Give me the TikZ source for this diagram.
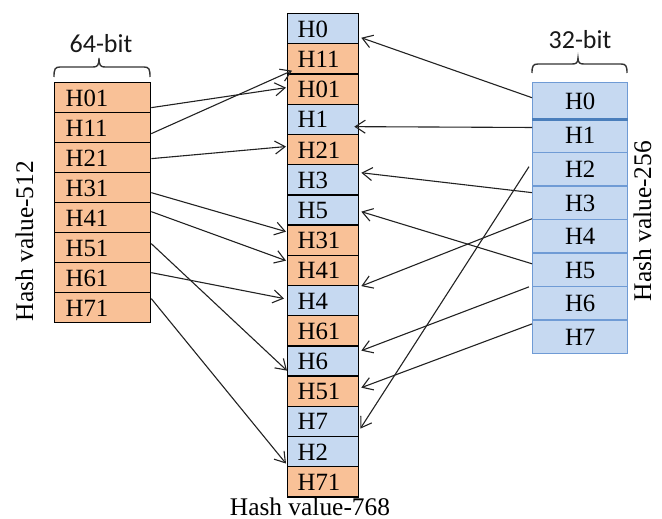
\documentclass[tikz,border=0pt]{standalone}
\usepackage{fontspec}
\setmainfont{Liberation Serif}
\newfontfamily\bitfont{Carlito}
\usetikzlibrary{arrows.meta}
\definecolor{cello}{HTML}{F9C197}
\definecolor{cellb}{HTML}{C6D9F1}
\definecolor{rightedge}{HTML}{6F9BD5}
\definecolor{rightbar}{HTML}{4A7EBB}
\definecolor{linkgray}{HTML}{222222}
\definecolor{bracegray}{HTML}{333333}

% bracket-like brace: #1 left x, #2 right x, #3 tip x, #4 end y, #5 bar y, #6 tip y
\newcommand\bitbrace[6]{%
  \draw[bracestyle] (#1,#4) .. controls (#1,{#5+2}) and ({#1+1},#5) .. ({#1+6},#5)
    -- ({#3-6},#5) .. controls ({#3-2},#5) and (#3,{#5-1}) .. (#3,#6)
    .. controls (#3,{#5-1}) and ({#3+2},#5) .. ({#3+6},#5)
    -- ({#2-6},#5) .. controls ({#2-1},#5) and (#2,{#5+2}) .. (#2,#4);}

\begin{document}
\begin{tikzpicture}[x=1pt,y=-1pt,
  cellbase/.style={draw=black, line width=1.3pt, inner ysep=0pt, anchor=north west,
    text height=17pt, text depth=0pt, font=\fontsize{24.8}{28}\selectfont, align=left},
  lcell/.style={cellbase, fill=cello, minimum width=96pt, minimum height=30pt,
    inner xsep=11pt, text width=74pt},
  mcell/.style={cellbase, minimum width=71pt, minimum height=30.2pt,
    inner xsep=10pt, text width=51pt},
  rcell/.style={draw=rightedge, line width=1.4pt, fill=cellb, anchor=north west,
    minimum width=95pt, inner sep=0pt, text width=95pt, align=center,
    text height=17pt, text depth=0pt, font=\fontsize{24.8}{28}\selectfont},
  link/.style={draw=linkgray, line width=1.1pt, -{Straight Barb[length=10pt,width=13pt]}},
  bracestyle/.style={draw=bracegray, line width=1.4pt},
  bitlabel/.style={font=\bitfont\fontsize{26}{30}\selectfont, text=black!90, anchor=base},
  hashlabel/.style={font=\fontsize{25.4}{30}\selectfont, anchor=base},
]
\useasboundingbox (0,0) rectangle (662,519);

% 512-bit hash split into 64-bit words
\foreach \t [count=\i] in {H01,H11,H21,H31,H41,H51,H61,H71}
  \node[lcell] (L\i) at (54,{82+30*(\i-1)}) {\t};

% interleaved 768-bit hash
\foreach \t/\c [count=\i] in {H0/cellb,H11/cello,H01/cello,H1/cellb,H21/cello,H3/cellb,
    H5/cellb,H31/cello,H41/cello,H4/cellb,H61/cello,H6/cellb,H51/cello,H7/cellb,
    H2/cellb,H71/cello}
  \node[mcell, fill=\c] (M\i) at (287,{13+30.2*(\i-1)}) {\t};

% 256-bit hash split into 32-bit words
\node[rcell, minimum height=36pt] (R0) at (532,82) {H0};
\foreach \t [count=\i] in {H1,H2,H3,H4,H5,H6,H7}
  \node[rcell, minimum height=33.57pt] (R\i) at (532,{118+33.57*(\i-1)}) {\t};
\draw[rightbar, line width=2.6pt] (R0.south west) -- (R0.south east);

% braces and word sizes
\bitbrace{54}{150}{99}{77}{67}{58}
\node[bitlabel] (w64) at (101,53) {64-bit};
\bitbrace{532}{627}{578}{73}{64}{58}
\node[bitlabel] (w32) at (580,49) {32-bit};

% column captions
\node[hashlabel, rotate=90] (c512) at (33,241) {Hash value-512};
\node[hashlabel, rotate=90] (c256) at (651,221) {Hash value-256};
\node[hashlabel] (c768) at (310,515) {Hash value-768};

% 64-bit words into the merged hash
\draw[link] ([yshift=-10pt]L1.east) -- ([xshift=-1pt,yshift=1.5pt]M3.west);
\draw[link] ([yshift=-6pt]L2.east) -- ([xshift=5pt,yshift=-11.7pt]M2.west);
\draw[link] ([yshift=-1pt]L3.east) -- ([xshift=-1pt,yshift=3pt]M5.west);
\draw[link] ([yshift=-5pt]L4.east) -- ([xshift=-1pt,yshift=8.5pt]M8.west);
\draw[link] ([yshift=6pt]L5.east) -- ([xshift=-1pt,yshift=9.7pt]M9.west);
\draw[link] ([yshift=4pt]L6.east) -- ([yshift=-9.7pt]M12.west);
\draw[link] ([yshift=5pt]L7.east) -- ([xshift=-3pt,yshift=2pt]M10.west);
\draw[link] ([yshift=9pt]L8.east) -- ([xshift=-1pt,yshift=-12pt]M15.west);

% 32-bit words into the merged hash
\draw[link] ([yshift=3pt]R0.west) -- ([xshift=2pt,yshift=-9pt]M1.east);
\draw[link] ([yshift=8pt]R1.west) -- ([xshift=-5pt,yshift=-7.3pt]M4.east);
\draw[link] ([xshift=-3pt,yshift=2.4pt]R2.west) -- ([xshift=1pt,yshift=-7.3pt]M14.east);
\draw[link] ([yshift=10pt]R3.west) -- ([xshift=2pt,yshift=7pt]M6.east);
\draw[link] (R4.north west) -- ([xshift=2pt]M9.south east);
\draw[link] ([yshift=6pt]R5.west) -- ([xshift=2pt,yshift=-1.7pt]M7.east);
\draw[link] ([xshift=-3pt,yshift=-1pt]R6.north west) -- ([xshift=2pt,yshift=10.3pt]M12.east);
\draw[link] ([yshift=13pt]R7.west) -- ([xshift=2pt,yshift=3.5pt]M13.east);
\end{tikzpicture}
\end{document}
